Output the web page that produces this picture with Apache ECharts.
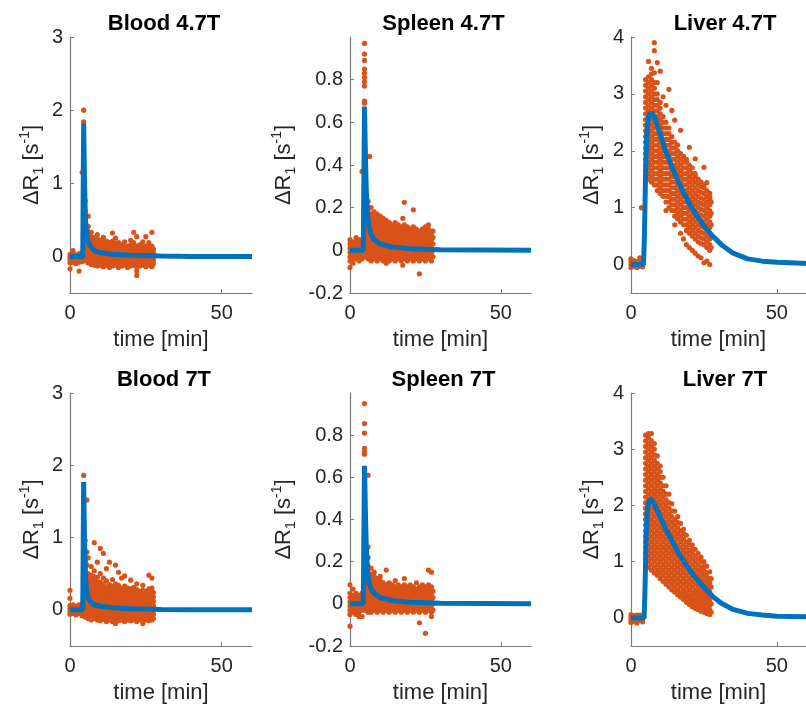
<!DOCTYPE html>
<html><head><meta charset="utf-8">
<script src="https://cdn.jsdelivr.net/npm/echarts@6/dist/echarts.min.js"></script>
<style>html,body{margin:0;padding:0;background:#fff}#c{width:806px;height:705px}</style>
</head><body><div id="c"></div>
<script>
// ---------- tick labels ----------
const xTicks = [0, 50];
const bloodTicks = [0, 1, 2, 3];
const spleenTicks = [-0.2, 0, 0.2, 0.4, 0.6, 0.8];
const liverTicks = [0, 1, 2, 3, 4];
const panelTitles = ['Blood 4.7T', 'Spleen 4.7T', 'Liver 4.7T', 'Blood 7T', 'Spleen 7T', 'Liver 7T'];

// ---------- measured data: [time, [ΔR1 values at that time]] ----------
const blood47Data = [
[0,[-0.17,-0.09,-0.05,-0.01,0.03]],[1,[-0.08,-0.04,0,0.04,0.08]],[2,[-0.1,-0.06,-0.02,0.02]],
[3,[-0.2,-0.08,-0.04,0,0.04]],[4,[-0.07,-0.03,0.01,0.05,1.15]],[4.5,[0.3,0.7,1.2,1.84,2.0]],
[5,[-0.06,-0.02,0.02,0.06,0.1,0.14,0.18,0.22,0.26,0.3,0.36,0.43,0.5,0.62,0.76]],
[6,[-0.09,-0.04,0,0.04,0.08,0.12,0.16,0.2,0.24,0.29,0.34,0.41,0.55]],
[7,[-0.11,-0.06,-0.02,0.02,0.06,0.1,0.14,0.18,0.22,0.27,0.33]],
[8,[-0.12,-0.08,-0.03,0.01,0.05,0.09,0.13,0.17,0.21,0.26]],
[9,[-0.13,-0.09,-0.05,-0.01,0.03,0.07,0.11,0.15,0.19,0.24,0.3]],
[10,[-0.12,-0.07,-0.03,0.01,0.05,0.09,0.13,0.17,0.22]],
[11,[-0.14,-0.1,-0.05,-0.01,0.03,0.07,0.11,0.15,0.2,0.26]],
[12,[-0.12,-0.08,-0.04,0,0.04,0.08,0.12,0.16,0.21]],
[13,[-0.15,-0.1,-0.06,-0.02,0.02,0.06,0.1,0.14,0.19]],
[14,[-0.13,-0.09,-0.05,-0.01,0.03,0.07,0.11,0.15,0.21,0.32]],
[15,[-0.12,-0.07,-0.03,0.01,0.05,0.09,0.13,0.18,0.25]],
[16,[-0.15,-0.1,-0.06,-0.02,0.02,0.06,0.1,0.14,0.19]],
[17,[-0.13,-0.09,-0.05,-0.01,0.03,0.07,0.11,0.16]],
[18,[-0.12,-0.07,-0.03,0.01,0.05,0.09,0.13,0.2]],
[19,[-0.15,-0.1,-0.06,-0.02,0.02,0.06,0.1,0.14]],
[20,[-0.13,-0.09,-0.05,-0.01,0.03,0.07,0.11,0.16,0.22]],
[21,[-0.12,-0.07,-0.03,0.01,0.05,0.09,0.13,0.19,0.33]],
[22,[-0.26,-0.2,-0.15,-0.1,-0.06,-0.02,0.02,0.06,0.1,0.14,0.27]],
[23,[-0.13,-0.09,-0.05,-0.01,0.03,0.07,0.11,0.16]],
[24,[-0.12,-0.07,-0.03,0.01,0.05,0.09,0.13,0.2]],
[25,[-0.14,-0.1,-0.06,-0.02,0.02,0.06,0.1,0.14,0.27]],
[26,[-0.12,-0.07,-0.03,0.01,0.05,0.09,0.13,0.19]],
[27,[-0.14,-0.1,-0.06,-0.02,0.02,0.06,0.1,0.14,0.33]],
[27.5,[-0.1,-0.05,0,0.05,0.1]]
];
const spleen47Data = [
[0,[-0.08,-0.05,-0.03,-0.01,0.01,0.03,0.05]],[1,[-0.06,-0.04,-0.02,0,0.02,0.04]],
[2,[-0.04,-0.02,0,0.02,0.04,0.06]],[3,[-0.05,-0.03,-0.01,0.01,0.03,0.05]],
[4,[-0.04,-0.02,0,0.02,0.04,0.37]],
[4.8,[0.15,0.3,0.5,0.69,0.7,0.77,0.79,0.81,0.83,0.85,0.89,0.92,0.97]],
[5,[-0.03,-0.01,0.01,0.03,0.05,0.07,0.09,0.11,0.13,0.15,0.17,0.19,0.21,0.23,0.25]],
[6,[-0.04,-0.02,0,0.02,0.04,0.06,0.08,0.1,0.12,0.14,0.16,0.18,0.2,0.23]],
[6.5,[0.44]],
[7,[-0.05,-0.03,-0.01,0.01,0.03,0.05,0.07,0.09,0.11,0.13,0.15,0.17,0.2]],
[8,[-0.04,-0.02,0,0.02,0.04,0.06,0.08,0.1,0.12,0.14,0.16,0.18]],
[9,[-0.05,-0.03,-0.01,0.01,0.03,0.05,0.07,0.09,0.11,0.13,0.15,0.17]],
[10,[-0.04,-0.02,0,0.02,0.04,0.06,0.08,0.1,0.12,0.14,0.16]],
[11,[-0.05,-0.03,-0.01,0.01,0.03,0.05,0.07,0.09,0.11,0.13,0.15]],
[12,[-0.06,-0.04,-0.02,0,0.02,0.04,0.06,0.08,0.1,0.12,0.14]],
[13,[-0.05,-0.03,-0.01,0.01,0.03,0.05,0.07,0.09,0.11,0.13]],
[14,[-0.04,-0.02,0,0.02,0.04,0.06,0.08,0.1,0.12]],
[15,[-0.05,-0.03,-0.01,0.01,0.03,0.05,0.07,0.09,0.11,0.13]],
[16,[-0.04,-0.02,0,0.02,0.04,0.06,0.08,0.1,0.12]],
[17,[-0.05,-0.03,-0.01,0.01,0.03,0.05,0.07,0.09,0.11]],
[17.5,[-0.07,0.15]],
[18,[-0.04,-0.02,0,0.02,0.04,0.06,0.08,0.1,0.12,0.225]],
[19,[-0.05,-0.03,-0.01,0.01,0.03,0.05,0.07,0.09,0.11]],
[20,[-0.04,-0.02,0,0.02,0.04,0.06,0.08,0.1]],
[21,[-0.05,-0.03,-0.01,0.01,0.03,0.05,0.07,0.09,0.11,0.19]],
[22,[-0.04,-0.02,0,0.02,0.04,0.06,0.08,0.1]],
[23,[-0.11,-0.05,-0.03,-0.01,0.01,0.03,0.05,0.07,0.09]],
[24,[-0.04,-0.02,0,0.02,0.04,0.06,0.08,0.1]],
[25,[-0.05,-0.03,-0.01,0.01,0.03,0.05,0.07,0.09,0.11]],
[26,[-0.04,-0.02,0,0.02,0.04,0.06,0.08,0.1,0.12]],
[27,[-0.05,-0.03,-0.01,0.01,0.03,0.05,0.07,0.09]],
[27.5,[-0.03,0,0.03,0.06,0.09]]
];
const liver47Data = [
[0,[-0.05,0,0.05,0.1]],[1,[-0.03,0.02,0.07]],[2,[-0.05,0,0.05]],[3,[-0.03,0.02,0.07,0.12]],
[3.6,[1.0]],[4,[-0.04,0.01,0.06]],
[5,[1.55,1.65,1.75,1.85,1.95,2.05,2.15,2.25,2.35,2.45,2.55,2.65,2.75,2.85,2.95,3.05,3.15,3.25]],
[6,[1.5,1.6,1.7,1.8,1.9,2.0,2.1,2.2,2.3,2.4,2.5,2.6,2.7,2.8,2.9,3.0,3.1,3.2,3.3,3.57]],
[7,[1.45,1.55,1.65,1.75,1.85,1.95,2.05,2.15,2.25,2.35,2.45,2.55,2.65,2.75,2.85,2.95,3.05,3.15,3.25,3.35,3.45]],
[8,[1.4,1.5,1.6,1.7,1.8,1.9,2.0,2.1,2.2,2.3,2.4,2.5,2.6,2.7,2.8,2.9,3.0,3.1,3.2,3.37,3.76,3.9]],
[9,[1.3,1.4,1.5,1.6,1.7,1.8,1.9,2.0,2.1,2.2,2.3,2.4,2.5,2.6,2.7,2.8,2.9,3.0,3.2,3.55]],
[10,[1.25,1.35,1.45,1.55,1.65,1.75,1.85,1.95,2.05,2.15,2.25,2.35,2.45,2.55,2.65,2.75,2.85,3.4]],
[11,[1.2,1.3,1.4,1.5,1.6,1.7,1.8,1.9,2.0,2.1,2.2,2.3,2.4,2.5,2.6,2.95]],
[12,[0.95,1.1,1.2,1.3,1.4,1.5,1.6,1.7,1.8,1.9,2.0,2.1,2.2,2.3,2.4,2.5,2.8]],
[13,[1.0,1.1,1.2,1.3,1.4,1.5,1.6,1.7,1.8,1.9,2.0,2.1,2.2,2.3,2.4,3.08]],
[14,[0.95,1.05,1.15,1.25,1.35,1.45,1.55,1.65,1.75,1.85,1.95,2.05,2.15,2.25,2.71]],
[15,[0.7,0.85,0.95,1.05,1.15,1.25,1.35,1.45,1.55,1.65,1.75,1.85,1.95,2.05,2.15,2.54]],
[16,[0.8,0.9,1.0,1.1,1.2,1.3,1.4,1.5,1.6,1.7,1.8,1.9,2.0,2.1]],
[17,[0.55,0.75,0.85,0.95,1.05,1.15,1.25,1.35,1.45,1.55,1.65,1.75,1.85,1.95,2.36]],
[18,[0.45,0.7,0.8,0.9,1.0,1.1,1.2,1.3,1.4,1.5,1.6,1.7,1.8,1.9]],
[19,[0.35,0.6,0.7,0.8,0.9,1.0,1.1,1.2,1.3,1.4,1.5,1.6,1.7,1.8,1.85]],
[20,[0.3,0.55,0.65,0.75,0.85,0.95,1.05,1.15,1.25,1.35,1.45,1.55,1.65,1.75,2.06]],
[21,[0.25,0.5,0.6,0.7,0.8,0.9,1.0,1.1,1.2,1.3,1.4,1.5,1.6,1.7]],
[22,[0.2,0.45,0.55,0.65,0.75,0.85,0.95,1.05,1.15,1.25,1.35,1.45,1.55,1.6,1.86]],
[23,[0.15,0.4,0.5,0.6,0.7,0.8,0.9,1.0,1.1,1.2,1.3,1.4,1.5]],
[24,[0.12,0.37,0.47,0.57,0.67,0.77,0.87,0.97,1.07,1.17,1.27,1.37,1.45]],
[25,[0.03,0.35,0.45,0.55,0.65,0.75,0.85,0.95,1.05,1.15,1.25,1.35,1.4,1.71]],
[26,[0.06,0.3,0.4,0.5,0.6,0.7,0.8,0.9,1.0,1.1,1.2,1.3,1.44]],
[27,[0.0,0.25,0.35,0.45,0.55,0.65,0.75,0.85,0.95,1.05,1.15,1.25,1.18]],
[27.5,[0.3,0.5,0.7,0.9,1.1]]
];
const blood7Data = [
[0,[0.27,0.16,-0.06,-0.02,0.02,0.06]],[1,[-0.05,-0.01,0.03,0.07]],[2,[-0.07,-0.03,0.01,0.05]],
[3,[-0.05,-0.01,0.03,0.07]],[4,[-0.08,-0.04,0,0.04,0.08]],[4.5,[0.3,0.7,1.2,1.86]],
[5,[-0.1,-0.06,-0.02,0.02,0.06,0.1,0.14,0.18,0.22,0.26,0.3,0.34,0.38,0.43,0.48,0.55,0.68,0.96]],
[5.6,[1.52,0.8,0.62]],
[6,[-0.12,-0.08,-0.04,0,0.04,0.08,0.12,0.16,0.2,0.24,0.28,0.32,0.36,0.4,0.45,0.5,0.72]],
[7,[-0.14,-0.1,-0.06,-0.02,0.02,0.06,0.1,0.14,0.18,0.22,0.26,0.3,0.34,0.38,0.43,0.48,0.6]],
[8,[-0.12,-0.08,-0.04,0,0.04,0.08,0.12,0.16,0.2,0.24,0.28,0.32,0.36,0.41,0.46,0.54,0.93]],
[9,[-0.14,-0.1,-0.06,-0.02,0.02,0.06,0.1,0.14,0.18,0.22,0.26,0.3,0.34,0.39,0.45,0.66]],
[10,[-0.15,-0.11,-0.07,-0.03,0.01,0.05,0.09,0.13,0.17,0.21,0.25,0.29,0.33,0.38,0.5,0.85]],
[11,[-0.13,-0.09,-0.05,-0.01,0.03,0.07,0.11,0.15,0.19,0.23,0.27,0.31,0.36,0.44,0.78]],
[12,[-0.16,-0.12,-0.08,-0.04,0,0.04,0.08,0.12,0.16,0.2,0.24,0.28,0.32,0.4,0.57]],
[13,[-0.14,-0.1,-0.06,-0.02,0.02,0.06,0.1,0.14,0.18,0.22,0.26,0.3,0.35,0.66]],
[14,[-0.16,-0.12,-0.08,-0.04,0,0.04,0.08,0.12,0.16,0.2,0.24,0.28,0.33,0.42]],
[15,[-0.19,-0.13,-0.09,-0.05,-0.01,0.03,0.07,0.11,0.15,0.19,0.23,0.27,0.31,0.36,0.62]],
[16,[-0.15,-0.11,-0.07,-0.03,0.01,0.05,0.09,0.13,0.17,0.21,0.25,0.29,0.34,0.52]],
[17,[-0.14,-0.1,-0.06,-0.02,0.02,0.06,0.1,0.14,0.18,0.22,0.26,0.3,0.44]],
[18,[-0.16,-0.12,-0.08,-0.04,0,0.04,0.08,0.12,0.16,0.2,0.24,0.28,0.33,0.47]],
[19,[-0.14,-0.1,-0.06,-0.02,0.02,0.06,0.1,0.14,0.18,0.22,0.26,0.3]],
[20,[-0.15,-0.11,-0.07,-0.03,0.01,0.05,0.09,0.13,0.17,0.21,0.25,0.29,0.41]],
[21,[-0.14,-0.1,-0.06,-0.02,0.02,0.06,0.1,0.14,0.18,0.22,0.26,0.31]],
[22,[-0.16,-0.12,-0.08,-0.04,0,0.04,0.08,0.12,0.16,0.2,0.24,0.28,0.36]],
[23,[-0.14,-0.1,-0.06,-0.02,0.02,0.06,0.1,0.14,0.18,0.22,0.26]],
[24,[-0.19,-0.13,-0.09,-0.05,-0.01,0.03,0.07,0.11,0.15,0.19,0.23,0.27,0.34]],
[25,[-0.14,-0.1,-0.06,-0.02,0.02,0.06,0.1,0.14,0.18,0.22,0.26]],
[26,[-0.15,-0.11,-0.07,-0.03,0.01,0.05,0.09,0.13,0.17,0.21,0.25,0.29,0.48]],
[27,[-0.14,-0.1,-0.06,-0.02,0.02,0.06,0.1,0.14,0.18,0.22,0.26,0.3,0.44]],
[27.5,[-0.12,-0.06,0,0.06,0.12,0.18,0.24]]
];
const spleen7Data = [
[0,[-0.106,-0.05,-0.03,-0.01,0.01,0.03,0.05,0.09]],[1,[-0.04,-0.02,0,0.02,0.04,0.07]],
[2,[-0.05,-0.03,-0.01,0.01,0.03,0.05]],[3,[-0.06,-0.04,-0.02,0,0.02,0.04]],
[4,[-0.06,-0.03,-0.01,0.01,0.03,0.05]],
[4.8,[0.15,0.3,0.5,0.71,0.72,0.737,0.81,0.855,0.95]],
[5,[-0.03,-0.01,0.01,0.03,0.05,0.07,0.09,0.11,0.13,0.15,0.17,0.19]],
[6,[-0.04,-0.02,0,0.02,0.04,0.06,0.08,0.1,0.12,0.14,0.16,0.18,0.22,0.27,0.61]],
[7,[-0.04,-0.02,0,0.02,0.04,0.06,0.08,0.1,0.12,0.14,0.17]],
[8,[-0.03,-0.01,0.01,0.03,0.05,0.07,0.09,0.11,0.13,0.15]],
[9,[-0.04,-0.02,0,0.02,0.04,0.06,0.08,0.1,0.12]],
[10,[-0.03,-0.01,0.01,0.03,0.05,0.07,0.09,0.11,0.13]],
[11,[-0.04,-0.02,0,0.02,0.04,0.06,0.08,0.1]],
[12,[-0.03,-0.01,0.01,0.03,0.05,0.07,0.09,0.16]],
[13,[-0.04,-0.02,0,0.02,0.04,0.06,0.08,0.1]],
[14,[-0.03,-0.01,0.01,0.03,0.05,0.07,0.09]],
[15,[-0.04,-0.02,0,0.02,0.04,0.06,0.08,0.11]],
[16,[-0.03,-0.01,0.01,0.03,0.05,0.07,0.09]],
[17,[-0.04,-0.02,0,0.02,0.04,0.06,0.08]],
[18,[-0.03,-0.01,0.01,0.03,0.05,0.07,0.09,0.12]],
[19,[-0.04,-0.02,0,0.02,0.04,0.06,0.08]],
[20,[-0.03,-0.01,0.01,0.03,0.05,0.07,0.09]],
[21,[-0.04,-0.02,0,0.02,0.04,0.06,0.08]],
[22,[-0.03,-0.01,0.01,0.03,0.05,0.07,0.1]],
[23,[-0.09,-0.04,-0.02,0,0.02,0.04,0.06,0.08]],
[24,[-0.03,-0.01,0.01,0.03,0.05,0.07,0.09]],
[25,[-0.14,-0.04,-0.02,0,0.02,0.04,0.06,0.08]],
[26,[-0.03,-0.01,0.01,0.03,0.05,0.07,0.09,0.16]],
[27,[-0.06,-0.04,-0.02,0,0.02,0.04,0.06,0.08,0.15]],
[27.5,[-0.03,0,0.03,0.06]]
];
const liver7Data = [
[0,[-0.08,-0.03,0.02,0.06]],[1,[-0.06,-0.01,0.04]],[2,[-0.09,-0.04,0.01,0.05]],[3,[-0.05,0,0.05]],[4,[-0.07,-0.02,0.03]],
[5,[0.95,1.05,1.15,1.25,1.35,1.45,1.55,1.65,1.75,1.85,1.95,2.05,2.15,2.25,2.35,2.45,2.55,2.65,2.75,2.85,2.95,3.05,3.15,3.25]],
[6,[0.9,1.0,1.1,1.2,1.3,1.4,1.5,1.6,1.7,1.8,1.9,2.0,2.1,2.2,2.3,2.4,2.5,2.6,2.7,2.8,2.9,3.0,3.1,3.2,3.28]],
[7,[0.85,0.95,1.05,1.15,1.25,1.35,1.45,1.55,1.65,1.75,1.85,1.95,2.05,2.15,2.25,2.35,2.45,2.55,2.65,2.75,2.85,2.95,3.05,3.15,3.28]],
[8,[0.8,0.9,1.0,1.1,1.2,1.3,1.4,1.5,1.6,1.7,1.8,1.9,2.0,2.1,2.2,2.3,2.4,2.5,2.6,2.7,2.8,2.9,3.0,3.1]],
[9,[0.76,0.85,0.95,1.05,1.15,1.25,1.35,1.45,1.55,1.65,1.75,1.85,1.95,2.05,2.15,2.25,2.35,2.45,2.55,2.65,2.75,2.88]],
[10,[0.7,0.8,0.9,1.0,1.1,1.2,1.3,1.4,1.5,1.6,1.7,1.8,1.9,2.0,2.1,2.2,2.3,2.4,2.5,2.6,2.7]],
[11,[0.65,0.75,0.85,0.95,1.05,1.15,1.25,1.35,1.45,1.55,1.65,1.75,1.85,1.95,2.05,2.15,2.25,2.35,2.5]],
[12,[0.6,0.7,0.8,0.9,1.0,1.1,1.2,1.3,1.4,1.5,1.6,1.7,1.8,1.9,2.0,2.1,2.2,2.35]],
[13,[0.55,0.65,0.75,0.85,0.95,1.05,1.15,1.25,1.35,1.45,1.55,1.65,1.75,1.85,1.95,2.05,2.2]],
[14,[0.5,0.6,0.7,0.8,0.9,1.0,1.1,1.2,1.3,1.4,1.5,1.6,1.7,1.8,1.9,2.03]],
[15,[0.46,0.55,0.65,0.75,0.85,0.95,1.05,1.15,1.25,1.35,1.45,1.55,1.65,1.75,1.9]],
[16,[0.41,0.5,0.6,0.7,0.8,0.9,1.0,1.1,1.2,1.3,1.4,1.5,1.6,1.7,1.8]],
[17,[0.37,0.45,0.55,0.65,0.75,0.85,0.95,1.05,1.15,1.25,1.35,1.45,1.55,1.68]],
[18,[0.33,0.42,0.5,0.6,0.7,0.8,0.9,1.0,1.1,1.2,1.3,1.4,1.5,1.58]],
[19,[0.28,0.37,0.45,0.55,0.65,0.75,0.85,0.95,1.05,1.15,1.25,1.35,1.47]],
[20,[0.24,0.32,0.4,0.5,0.6,0.7,0.8,0.9,1.0,1.1,1.2,1.3,1.38]],
[21,[0.2,0.28,0.36,0.45,0.55,0.65,0.75,0.85,0.95,1.05,1.15,1.22,1.3]],
[22,[0.17,0.25,0.33,0.42,0.5,0.6,0.7,0.8,0.9,1.0,1.1,1.22]],
[23,[0.15,0.23,0.31,0.4,0.48,0.57,0.66,0.75,0.85,0.95,1.05,1.15]],
[24,[0.12,0.2,0.28,0.36,0.45,0.54,0.63,0.72,0.81,0.9,1.0,1.08]],
[25,[0.1,0.18,0.26,0.34,0.42,0.5,0.58,0.66,0.75,0.84,0.92,1.0]],
[26,[0.08,0.16,0.24,0.32,0.4,0.48,0.56,0.64,0.72,0.8,0.92]],
[27,[0.06,0.14,0.22,0.3,0.38,0.46,0.54,0.62,0.7,0.82]],
[27.5,[0.1,0.25,0.4,0.55,0.7]]
];

// ---------- fitted curves ----------
const blood47FitT = [0,4.2,4.5,4.8,5.1,5.5,6,7,8,10,14,20,30,40,60];
const blood47FitY = [0,0,1.82,1.0,0.5,0.3,0.2,0.12,0.08,0.05,0.03,0.015,0.005,0,0];
const spleen47FitT = [0,4.4,4.8,5.1,5.4,5.8,6.3,7,8,10,14,20,30,60];
const spleen47FitY = [0,0,0.674,0.45,0.28,0.17,0.11,0.075,0.05,0.03,0.015,0.008,0.003,0];
const liver47FitT = [0,4.3,4.6,5,5.4,6,6.9,8,9,10,12,14,16,18,20,22,25,28,31,35,40,45,50,55,60];
const liver47FitY = [0,0,0.5,1.6,2.3,2.6,2.67,2.6,2.45,2.3,1.98,1.72,1.48,1.27,1.07,0.9,0.68,0.5,0.35,0.2,0.1,0.06,0.04,0.03,0.02];
const blood7FitT = [0,4.2,4.5,4.8,5.1,5.5,6,7,8,10,14,20,30,40,60];
const blood7FitY = [0,0,1.77,0.95,0.45,0.25,0.16,0.1,0.07,0.05,0.03,0.015,0.005,0,0];
const spleen7FitT = [0,4.4,4.8,5.1,5.4,5.8,6.3,7,8,10,14,20,30,60];
const spleen7FitY = [0,0,0.655,0.44,0.27,0.16,0.1,0.07,0.05,0.03,0.015,0.008,0.003,0];
const liver7FitT = [0,4.5,4.8,5.2,5.6,6.2,6.9,8,10,12,14,16,18,20,22,25,28,31,35,40,45,50,60];
const liver7FitY = [0,0,0.5,1.5,1.95,2.08,2.12,2.02,1.8,1.57,1.38,1.18,1.01,0.86,0.72,0.55,0.38,0.26,0.15,0.08,0.05,0.03,0.02];

// ---------- layout / style ----------
const FONT = '"Liberation Sans", Arial, Helvetica, sans-serif';
const TXT = '#262626';
const AXC = '#7a7a7a';
const ORANGE = '#D95319';
const BLUE = '#0072BD';

const panels = [
  {data: blood47Data, fitT: blood47FitT, fitY: blood47FitY, yMin: -0.5, yMax: 3, ticks: bloodTicks, left: 70, top: 37, width: 182, height: 256, gap: 24},
  {data: spleen47Data, fitT: spleen47FitT, fitY: spleen47FitY, yMin: -0.2, yMax: 1, ticks: spleenTicks, left: 350, top: 37, width: 181, height: 256, gap: 52},
  {data: liver47Data, fitT: liver47FitT, fitY: liver47FitY, yMin: -0.5, yMax: 4, ticks: liverTicks, left: 631, top: 37, width: 182, height: 256, gap: 25},
  {data: blood7Data, fitT: blood7FitT, fitY: blood7FitY, yMin: -0.5, yMax: 3, ticks: bloodTicks, left: 70, top: 393, width: 182, height: 255, gap: 24},
  {data: spleen7Data, fitT: spleen7FitT, fitY: spleen7FitY, yMin: -0.2, yMax: 1, ticks: spleenTicks, left: 350, top: 393, width: 181, height: 255, gap: 52},
  {data: liver7Data, fitT: liver7FitT, fitY: liver7FitY, yMin: -0.5, yMax: 4, ticks: liverTicks, left: 631, top: 393, width: 182, height: 255, gap: 25}
];

const grids = [], xAxes = [], yAxes = [], series = [], titles = [];
panels.forEach((p, i) => {
  grids.push({left: p.left, top: p.top, width: p.width, height: p.height, containLabel: false});
  titles.push({
    text: panelTitles[i], left: p.left + p.width / 2 - 2, top: p.top - 29, textAlign: 'center',
    textStyle: {fontFamily: FONT, fontSize: 22, fontWeight: 'bold', color: '#000'}
  });
  const axLine = {show: true, onZero: false, lineStyle: {color: AXC, width: 1.2}};
  xAxes.push({
    gridIndex: i, type: 'value', min: 0, max: 60,
    axisLine: axLine,
    axisTick: {show: true, inside: true, length: 4, customValues: xTicks, lineStyle: {color: AXC}},
    axisLabel: {customValues: xTicks, margin: 10, color: TXT, fontSize: 20, fontFamily: FONT},
    splitLine: {show: false},
    name: 'time [min]', nameLocation: 'middle', nameGap: 36,
    nameTextStyle: {color: TXT, fontSize: 22, fontFamily: FONT}
  });
  yAxes.push({
    gridIndex: i, type: 'value', min: p.yMin, max: p.yMax,
    axisLine: axLine,
    axisTick: {show: true, inside: true, length: 4, customValues: p.ticks, lineStyle: {color: AXC}},
    axisLabel: {customValues: p.ticks, margin: 7, color: TXT, fontSize: 20, fontFamily: FONT},
    splitLine: {show: false},
    name: '{a|ΔR}{b|1}{a| [s}{c|-1}{a|]}', nameLocation: 'middle', nameGap: p.gap, nameRotate: 90,
    nameTextStyle: {
      color: TXT, fontSize: 22, fontFamily: FONT,
      rich: {
        a: {fontSize: 22, lineHeight: 28, fontFamily: FONT, color: TXT},
        b: {fontSize: 14, lineHeight: 14, verticalAlign: 'bottom', fontFamily: FONT, color: TXT},
        c: {fontSize: 14, lineHeight: 14, verticalAlign: 'top', fontFamily: FONT, color: TXT}
      }
    }
  });
  const pts = [];
  p.data.forEach(([t, ys]) => ys.forEach(y => pts.push([t, y])));
  series.push({
    type: 'scatter', xAxisIndex: i, yAxisIndex: i, data: pts,
    symbol: 'circle', symbolSize: 5.2, itemStyle: {color: ORANGE, opacity: 1},
    silent: true, z: 2
  });
  series.push({
    type: 'line', xAxisIndex: i, yAxisIndex: i,
    data: p.fitT.map((t, k) => [t, p.fitY[k]]),
    showSymbol: false, smooth: false, lineStyle: {color: BLUE, width: 5}, itemStyle: {color: BLUE},
    silent: true, z: 3, clip: true
  });
});

const chart = echarts.init(document.getElementById('c'), null, {renderer: 'canvas'});
chart.setOption({
  animation: false, backgroundColor: '#fff',
  title: titles, grid: grids, xAxis: xAxes, yAxis: yAxes, series: series
});
</script>
</body></html>
